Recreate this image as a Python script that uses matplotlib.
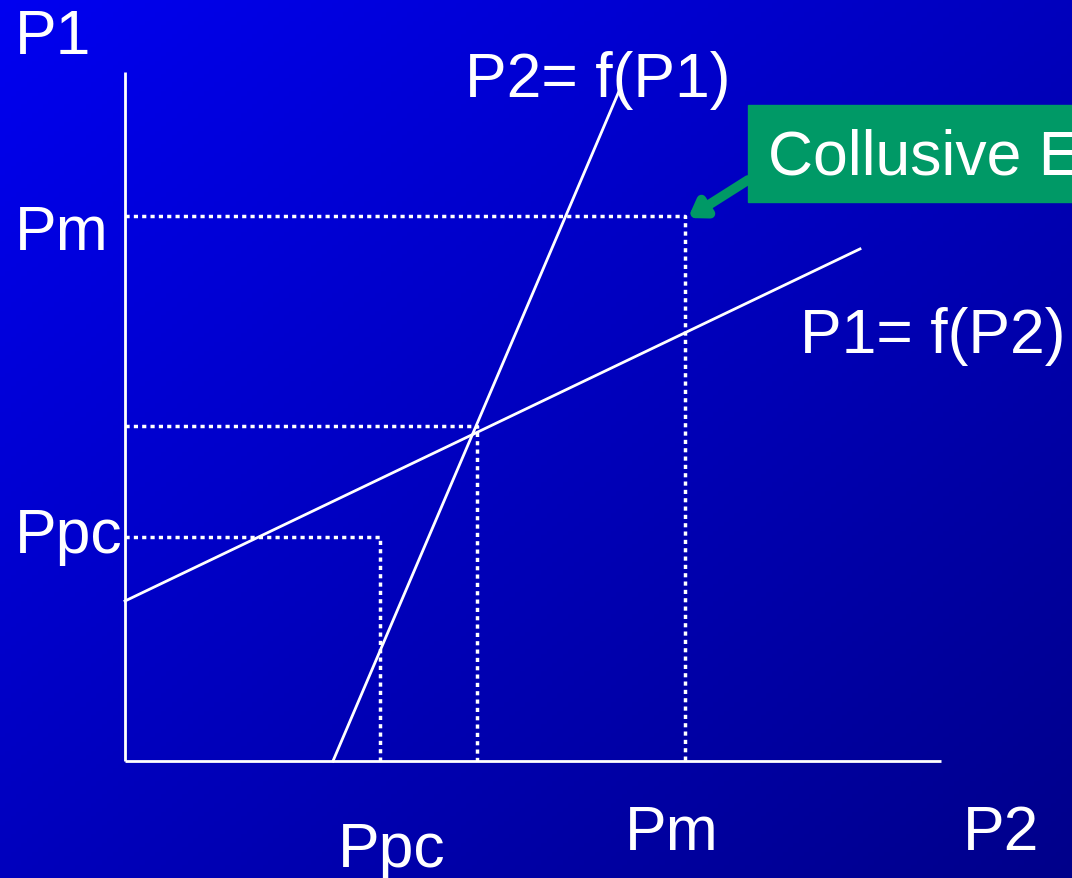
import matplotlib
matplotlib.use("Agg")
from matplotlib import pyplot as plt
from matplotlib.patches import Rectangle
import numpy as np

# diagram units: origin where the two axes meet
axis_len = [816, 689]            # P2 axis, P1 axis
ppc = [255, 224]                 # competitive price (P2, P1)
nash = [352, 335]                # reaction-curve intersection guide
pm = [560, 545]                  # collusive price
p1_line = [160, 0.479, 735]      # P1 = a + b*P2, drawn up to P2 = end
p2_line = [208, 0.427, 672]      # P2 = a + b*P1, drawn up to P1 = end

green = '#009966'
font = ['Liberation Sans', 'DejaVu Sans']
fs = 45

fig = plt.figure(figsize=(10.72, 8.79), dpi=100)
ax = fig.add_axes([0, 0, 1, 1])
ax.set_xlim(-125, 947)
ax.set_ylim(-117, 762)
ax.axis('off')

# blue diagonal gradient background
gx, gy = np.meshgrid(np.linspace(0, 1, 200), np.linspace(0, 1, 200))
t = (gx + gy) / 2
rgb = np.zeros((200, 200, 3))
rgb[..., 2] = (240 - 102 * t) / 255
ax.imshow(rgb, extent=[-125, 947, -117, 762], origin='upper', aspect='auto', zorder=0)

# axes
ax.plot([0, 0], [0, axis_len[1]], color='white', lw=2, solid_capstyle='butt')
ax.plot([0, axis_len[0]], [0, 0], color='white', lw=2, solid_capstyle='butt')

# reaction curves
x = np.array([0, p1_line[2]])
ax.plot(x, p1_line[0] + p1_line[1] * x, color='white', lw=2)
y = np.array([0, p2_line[2]])
ax.plot(p2_line[0] + p2_line[1] * y, y, color='white', lw=2)

# dotted guides
dot = dict(color='white', lw=2.5, linestyle=(0, (1.2, 1.2)), dash_capstyle='butt')
for p in (ppc, nash, pm):
    ax.plot([0, p[0], p[0]], [p[1], p[1], 0], **dot)

# labels
txt = dict(color='white', fontsize=fs, family=font)
ax.text(-110, 724, 'P1', va='center', **txt)
ax.text(340, 682, 'P2= f(P1)', va='center', **txt)
ax.text(-110, pm[1] - 16, 'Pm', va='center', **txt)
ax.text(675, 426, 'P1= f(P2)', va='center', **txt)
ax.text(-110, ppc[1] + 1, 'Ppc', va='center', **txt)
ax.text(213, -89, 'Ppc', va='center', **txt)
ax.text(500, -72, 'Pm', va='center', **txt)
ax.text(838, -72, 'P2', va='center', **txt)

# collusive equilibrium callout
ax.add_patch(Rectangle((623, 559), 400, 97, color=green, zorder=3, clip_on=False))
ax.text(643, 603, 'Collusive Equilibrium', va='center', zorder=4, **txt)
ax.annotate('', xy=(pm[0] + 3, pm[1] - 2), xytext=(623, 581),
            arrowprops=dict(arrowstyle='-|>,head_length=0.9,head_width=0.6',
                            color=green, lw=7, shrinkA=0, shrinkB=0), zorder=3)

fig.savefig('out.png', dpi=100)
